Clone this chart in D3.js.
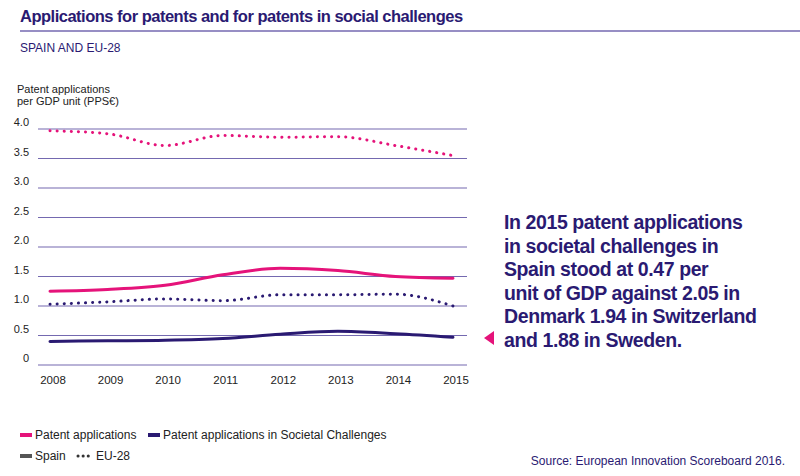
<!DOCTYPE html><html><head><meta charset="utf-8"><script src="https://cdn.jsdelivr.net/npm/d3@7"></script>
<style>body{margin:0;background:#fff;font-family:"Liberation Sans",Arial,sans-serif}</style></head><body><svg id="c" width="800" height="476"></svg>
<script>
const years=[2008,2009,2010,2011,2012,2013,2014,2015];
const spainPatent=[1.25,1.28,1.35,1.53,1.64,1.60,1.50,1.47];
const euPatent=[3.97,3.92,3.72,3.89,3.86,3.87,3.72,3.55];
const spainSocietal=[0.40,0.41,0.42,0.45,0.52,0.57,0.53,0.47];
const euSocietal=[1.03,1.07,1.12,1.09,1.19,1.19,1.20,1.00];
const yTicks=[0,0.5,1,1.5,2,2.5,3,3.5,4];
const MAG="#e5137a",NAVY="#2a1a72",GRID="#7469b0";
const svg=d3.select("#c");
svg.append("text").attr("x",20).attr("y",22).attr("font-size",16.5).attr("font-weight","bold").attr("fill",NAVY).attr("letter-spacing",-0.5).text("Applications for patents and for patents in social challenges");
svg.append("line").attr("x1",20).attr("x2",800).attr("y1",31).attr("y2",31).attr("stroke",GRID).attr("stroke-width",1.5);
svg.append("text").attr("x",20).attr("y",52).attr("font-size",12).attr("fill",NAVY).text("SPAIN AND EU-28");
svg.append("text").attr("x",17).attr("y",93).attr("font-size",11).attr("fill","#222").text("Patent applications");
svg.append("text").attr("x",17).attr("y",105).attr("font-size",11).attr("fill","#222").text("per GDP unit (PPS€)");
const x=d3.scalePoint().domain(years).range([50,453]);
const y=d3.scaleLinear().domain([0,4]).range([365,129]);
const g=svg.append("g");
yTicks.forEach(t=>{
 g.append("line").attr("x1",38).attr("x2",467).attr("y1",y(t)).attr("y2",y(t)).attr("stroke",GRID).attr("stroke-width",1.2);
 g.append("text").attr("x",29).attr("y",y(t)-3).attr("text-anchor","end").attr("font-size",11).attr("fill","#222").text(t===0?"0":t.toFixed(1));
});
years.forEach(yr=>g.append("text").attr("x",x(yr)+3).attr("y",384).attr("text-anchor","middle").attr("font-size",11.5).attr("fill","#222").text(yr));
const line=d3.line().x((d,i)=>x(years[i])).y(d=>y(d)).curve(d3.curveMonotoneX);
function draw(data,color,dotted){
 g.append("path").attr("d",line(data)).attr("fill","none").attr("stroke",color).attr("stroke-width",3).attr("stroke-linecap","round").attr("stroke-dasharray",dotted?"0.1 7":null);
}
draw(euPatent,MAG,true);draw(spainPatent,MAG,false);draw(euSocietal,NAVY,true);draw(spainSocietal,NAVY,false);
const ann=["In 2015 patent applications","in societal challenges in","Spain stood at 0.47 per","unit of GDP against 2.05 in","Denmark 1.94 in Switzerland","and 1.88 in Sweden."];
ann.forEach((s,i)=>svg.append("text").attr("x",504).attr("y",229+i*23.5).attr("font-size",19.5).attr("font-weight","bold").attr("fill",NAVY).attr("letter-spacing",-0.4).text(s));
svg.append("path").attr("d","M484,338 L494,331 L494,345 Z").attr("fill",MAG);
svg.append("line").attr("x1",20).attr("x2",32).attr("y1",435).attr("y2",435).attr("stroke",MAG).attr("stroke-width",4);
svg.append("text").attr("x",35).attr("y",439).attr("font-size",12).attr("fill","#222").text("Patent applications");
svg.append("line").attr("x1",148).attr("x2",160).attr("y1",435).attr("y2",435).attr("stroke",NAVY).attr("stroke-width",4);
svg.append("text").attr("x",163).attr("y",439).attr("font-size",12).attr("fill","#222").text("Patent applications in Societal Challenges");
svg.append("line").attr("x1",20).attr("x2",32).attr("y1",456).attr("y2",456).attr("stroke","#555").attr("stroke-width",4);
svg.append("text").attr("x",35).attr("y",460).attr("font-size",12).attr("fill","#222").text("Spain");
svg.append("line").attr("x1",78).attr("x2",92).attr("y1",456).attr("y2",456).attr("stroke","#333").attr("stroke-width",3).attr("stroke-linecap","round").attr("stroke-dasharray","0.1 5");
svg.append("text").attr("x",96).attr("y",460).attr("font-size",12).attr("fill","#222").text("EU-28");
svg.append("text").attr("x",785).attr("y",465).attr("text-anchor","end").attr("font-size",12).attr("fill",NAVY).text("Source: European Innovation Scoreboard 2016.");
</script></body></html>
